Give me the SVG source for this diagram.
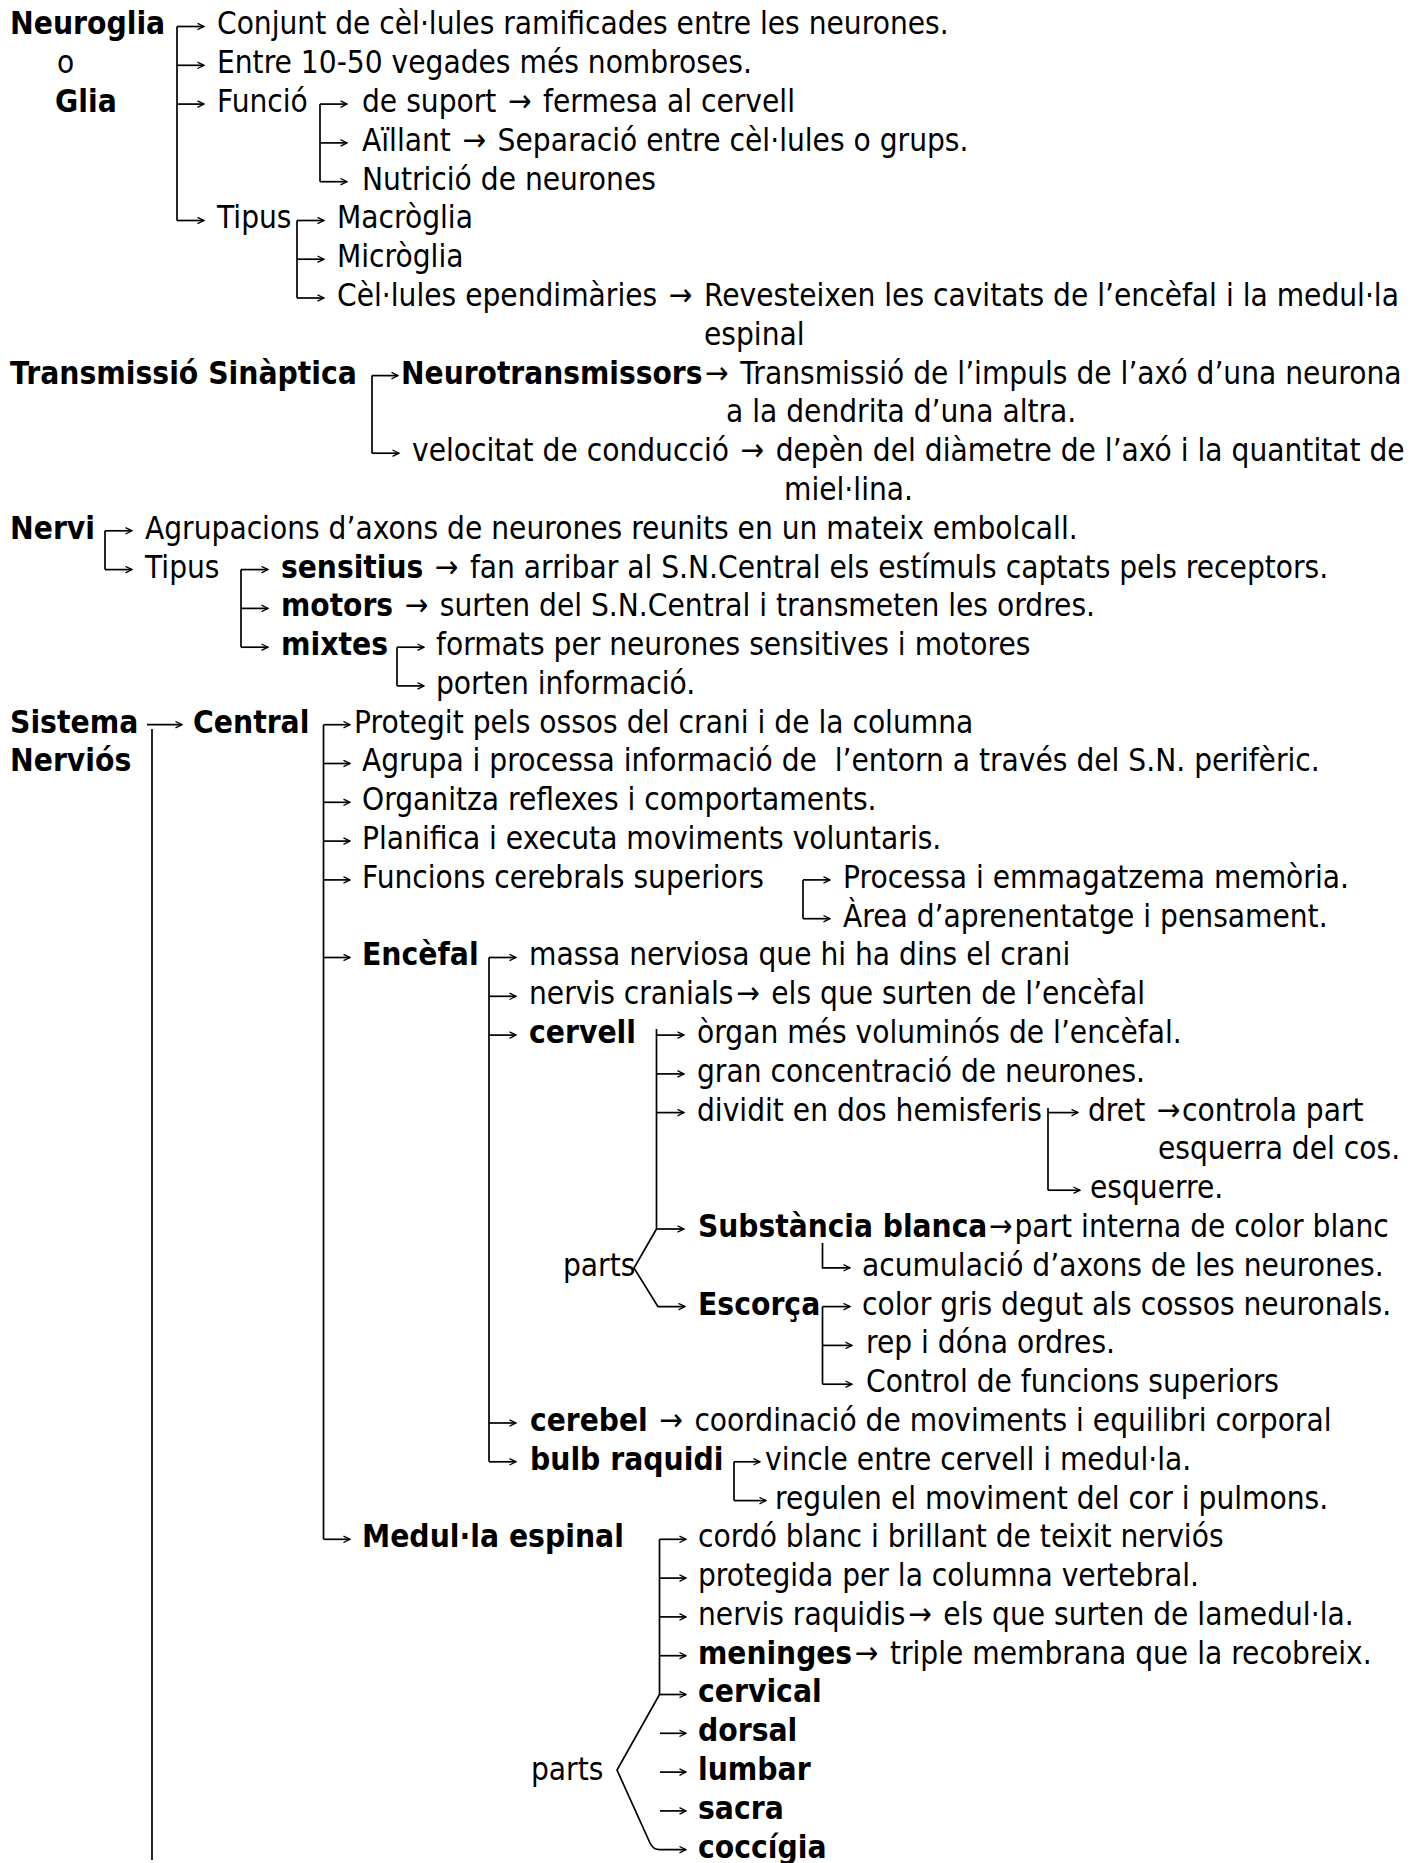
<svg xmlns="http://www.w3.org/2000/svg" width="1424" height="1863" viewBox="0 0 1424 1863">
<style>
text { font-family: "DejaVu Sans", Verdana, sans-serif; font-size: 32px; fill: #000; }
.b { font-weight: bold; }
.c { fill: none; stroke: #000; stroke-width: 1.7; }
.a { marker-end: url(#ah); }
</style>
<defs>
<marker id="ah" viewBox="0 0 8 8" refX="7.5" refY="4" markerWidth="8" markerHeight="8" markerUnits="userSpaceOnUse" orient="auto">
<path d="M1,0.8 L7.5,4 L1,7.2" fill="none" stroke="#000" stroke-width="1.3"/>
</marker>
</defs>
<rect width="1424" height="1863" fill="#fff"/>

<g id="connectors">
<path class="c" d="M177 26.5 V220.5"/>
<path class="c a" d="M177 26.5 H204"/><path class="c a" d="M177 65.3 H204"/><path class="c a" d="M177 104.1 H204"/><path class="c a" d="M177 220.5 H204"/>
<path class="c" d="M320 104.1 V181.7"/>
<path class="c a" d="M320 104.1 H347"/><path class="c a" d="M320 142.9 H347"/><path class="c a" d="M320 181.7 H347"/>
<path class="c" d="M297 220.5 V298"/>
<path class="c a" d="M297 220.5 H324"/><path class="c a" d="M297 259.2 H324"/><path class="c a" d="M297 298 H324"/>
<path class="c" d="M372 375.6 V453.2"/>
<path class="c a" d="M372 375.6 H398"/><path class="c a" d="M372 453.2 H399"/>
<path class="c" d="M105 530.8 V569.6"/>
<path class="c a" d="M105 530.8 H132"/><path class="c a" d="M105 569.6 H132"/>
<path class="c" d="M241 569.6 V647.2"/>
<path class="c a" d="M241 569.6 H268"/><path class="c a" d="M241 608.4 H268"/><path class="c a" d="M241 647.2 H268"/>
<path class="c" d="M397 647.2 V685.9"/>
<path class="c a" d="M397 647.2 H424"/><path class="c a" d="M397 685.9 H424"/>
<path class="c a" d="M147 724.7 H182"/>
<path class="c" d="M152 729 V1860"/>
<path class="c" d="M323.5 724.7 V1539.3"/>
<path class="c a" d="M323.5 724.7 H350"/><path class="c a" d="M323.5 763.5 H350"/><path class="c a" d="M323.5 802.3 H350"/><path class="c a" d="M323.5 841.1 H350"/><path class="c a" d="M323.5 879.9 H350"/><path class="c a" d="M323.5 957.5 H350"/><path class="c a" d="M323.5 1539.3 H350"/>
<path class="c" d="M803 879.9 V918.7"/>
<path class="c a" d="M803 879.9 H830"/><path class="c a" d="M803 918.7 H830"/>
<path class="c" d="M489 957.5 V1461.8"/>
<path class="c a" d="M489 957.5 H516"/><path class="c a" d="M489 996.3 H516"/><path class="c a" d="M489 1035.1 H516"/><path class="c a" d="M489 1423 H516"/><path class="c a" d="M489 1461.8 H516"/>
<path class="c a" d="M656.5 1029 V1229 L634 1268 L658 1306.6 H685"/>
<path class="c a" d="M656.5 1035.1 H684"/><path class="c a" d="M656.5 1073.9 H684"/><path class="c a" d="M656.5 1112.6 H684"/><path class="c a" d="M656.5 1229 H684"/>
<path class="c" d="M1048 1108 V1190.2"/>
<path class="c a" d="M1048 1112.6 H1078"/><path class="c a" d="M1048 1190.2 H1080"/>
<path class="c a" d="M822.5 1243 V1267.8 H850"/>
<path class="c" d="M822.5 1306.6 V1384.2"/>
<path class="c a" d="M822.5 1306.6 H850"/><path class="c a" d="M822.5 1345.4 H852"/><path class="c a" d="M822.5 1384.2 H852"/>
<path class="c" d="M734 1461.8 V1500.6"/>
<path class="c a" d="M734 1461.8 H760"/><path class="c a" d="M734 1500.6 H766"/>
<path class="c" d="M659.5 1539.3 V1694.5"/>
<path class="c a" d="M659.5 1539.3 H686"/><path class="c a" d="M659.5 1578.1 H686"/><path class="c a" d="M659.5 1616.9 H686"/><path class="c a" d="M659.5 1655.7 H686"/><path class="c a" d="M659.5 1694.5 H686"/>
<path class="c a" d="M659.5 1694.5 L617 1770 L650 1843 Q653 1849.7 660 1849.7 H686"/>
<path class="c a" d="M660 1733.3 H686"/><path class="c a" d="M660 1772.1 H686"/><path class="c a" d="M660 1810.9 H686"/>
</g>

<g id="n-neuroglia"><text class="b" transform="matrix(.885 0 0 1 10 0)" y="34.5">Neuroglia</text></g>
<g id="n-o"><text transform="matrix(.88 0 0 1 57 0)" y="73.3">o</text></g>
<g id="n-glia"><text class="b" transform="matrix(.885 0 0 1 55 0)" y="112.1">Glia</text></g>
<g id="n-conjunt"><text transform="matrix(.88 0 0 1 217 0)" y="34.5">Conjunt de cèl·lules ramificades entre les neurones.</text></g>
<g id="n-entre"><text transform="matrix(.88 0 0 1 217 0)" y="73.3">Entre 10-50 vegades més nombroses.</text></g>
<g id="n-funcio"><text transform="matrix(.88 0 0 1 217 0)" y="112.1">Funció</text></g>
<g id="n-suport"><text transform="matrix(.88 0 0 1 362 0)" y="112.1">de suport <tspan dx="3">→</tspan><tspan dx="3"> fermesa al cervell</tspan></text></g>
<g id="n-aillant"><text transform="matrix(.88 0 0 1 362 0)" y="150.9">Aïllant <tspan dx="3">→</tspan><tspan dx="3"> Separació entre cèl·lules o grups.</tspan></text></g>
<g id="n-nutricio"><text transform="matrix(.88 0 0 1 362 0)" y="189.7">Nutrició de neurones</text></g>
<g id="n-tipus1"><text transform="matrix(.88 0 0 1 217 0)" y="228.5">Tipus</text></g>
<g id="n-macroglia"><text transform="matrix(.88 0 0 1 337 0)" y="228.5">Macròglia</text></g>
<g id="n-microglia"><text transform="matrix(.88 0 0 1 337 0)" y="267.2">Micròglia</text></g>
<g id="n-ependim"><text transform="matrix(.88 0 0 1 337 0)" y="306">Cèl·lules ependimàries <tspan dx="3">→</tspan><tspan dx="3"> Revesteixen les cavitats de l’encèfal i la medul·la</tspan></text>
<text transform="matrix(.88 0 0 1 704 0)" y="344.8">espinal</text></g>

<g id="n-transmissio"><text class="b" transform="matrix(.885 0 0 1 10 0)" y="383.6">Transmissió Sinàptica</text></g>
<g id="n-neurotrans"><text transform="matrix(.88 0 0 1 401 0)" y="383.6"><tspan class="b">Neurotransmissors</tspan><tspan dx="3">→</tspan><tspan dx="3"> Transmissió de l’impuls de l’axó d’una neurona</tspan></text>
<text transform="matrix(.88 0 0 1 726 0)" y="422.4">a la dendrita d’una altra.</text></g>
<g id="n-velocitat"><text transform="matrix(.88 0 0 1 412 0)" y="461.2">velocitat de conducció <tspan dx="3">→</tspan><tspan dx="3"> depèn del diàmetre de l’axó i la quantitat de</tspan></text>
<text transform="matrix(.88 0 0 1 784 0)" y="500">miel·lina.</text></g>

<g id="n-nervi"><text class="b" transform="matrix(.885 0 0 1 10 0)" y="538.8">Nervi</text></g>
<g id="n-agrupacions"><text transform="matrix(.88 0 0 1 145 0)" y="538.8">Agrupacions d’axons de neurones reunits en un mateix embolcall.</text></g>
<g id="n-tipus2"><text transform="matrix(.88 0 0 1 145 0)" y="577.6">Tipus</text></g>
<g id="n-sensitius"><text transform="matrix(.88 0 0 1 281 0)" y="577.6"><tspan class="b">sensitius</tspan> <tspan dx="3">→</tspan><tspan dx="3"> fan arribar al S.N.Central els estímuls captats pels receptors.</tspan></text></g>
<g id="n-motors"><text transform="matrix(.88 0 0 1 281 0)" y="616.4"><tspan class="b">motors</tspan> <tspan dx="3">→</tspan><tspan dx="3"> surten del S.N.Central i transmeten les ordres.</tspan></text></g>
<g id="n-mixtes"><text class="b" transform="matrix(.885 0 0 1 281 0)" y="655.2">mixtes</text></g>
<g id="n-formats"><text transform="matrix(.88 0 0 1 436 0)" y="655.2">formats per neurones sensitives i motores</text></g>
<g id="n-porten"><text transform="matrix(.88 0 0 1 436 0)" y="693.9">porten informació.</text></g>

<g id="n-sistema"><text class="b" transform="matrix(.885 0 0 1 10 0)" y="732.7">Sistema</text>
<text class="b" transform="matrix(.885 0 0 1 10 0)" y="771.5">Nerviós</text></g>
<g id="n-central"><text class="b" transform="matrix(.885 0 0 1 193 0)" y="732.7">Central</text></g>
<g id="n-protegit"><text transform="matrix(.88 0 0 1 354 0)" y="732.7">Protegit pels ossos del crani i de la columna</text></g>
<g id="n-agrupa"><text xml:space="preserve" transform="matrix(.88 0 0 1 362 0)" y="771.5">Agrupa i processa informació de  l’entorn a través del S.N. perifèric.</text></g>
<g id="n-organitza"><text transform="matrix(.88 0 0 1 362 0)" y="810.3">Organitza reflexes i comportaments.</text></g>
<g id="n-planifica"><text transform="matrix(.88 0 0 1 362 0)" y="849.1">Planifica i executa moviments voluntaris.</text></g>
<g id="n-funcions"><text transform="matrix(.88 0 0 1 362 0)" y="887.9">Funcions cerebrals superiors</text></g>
<g id="n-processa"><text transform="matrix(.88 0 0 1 843 0)" y="887.9">Processa i emmagatzema memòria.</text></g>
<g id="n-area"><text transform="matrix(.88 0 0 1 843 0)" y="926.7">Àrea d’aprenentatge i pensament.</text></g>
<g id="n-encefal"><text class="b" transform="matrix(.885 0 0 1 362 0)" y="965.5">Encèfal</text></g>
<g id="n-massa"><text transform="matrix(.88 0 0 1 529 0)" y="965.5">massa nerviosa que hi ha dins el crani</text></g>
<g id="n-cranials"><text transform="matrix(.88 0 0 1 529 0)" y="1004.3">nervis cranials<tspan dx="3">→</tspan><tspan dx="3"> els que surten de l’encèfal</tspan></text></g>
<g id="n-cervell"><text class="b" transform="matrix(.885 0 0 1 529 0)" y="1043.1">cervell</text></g>
<g id="n-organ"><text transform="matrix(.88 0 0 1 697 0)" y="1043.1">òrgan més voluminós de l’encèfal.</text></g>
<g id="n-gran"><text transform="matrix(.88 0 0 1 697 0)" y="1081.9">gran concentració de neurones.</text></g>
<g id="n-dividit"><text transform="matrix(.88 0 0 1 697 0)" y="1120.6">dividit en dos hemisferis</text></g>
<g id="n-dret"><text transform="matrix(.88 0 0 1 1088 0)" y="1120.6">dret <tspan dx="3">→</tspan><tspan dx="2">controla part</tspan></text>
<text transform="matrix(.88 0 0 1 1158 0)" y="1159.4">esquerra del cos.</text></g>
<g id="n-esquerre"><text transform="matrix(.88 0 0 1 1090 0)" y="1198.2">esquerre.</text></g>
<g id="n-parts1"><text transform="matrix(.88 0 0 1 563 0)" y="1275.8">parts</text></g>
<g id="n-substancia"><text transform="matrix(.88 0 0 1 698 0)" y="1237"><tspan class="b">Substància blanca</tspan><tspan dx="2">→</tspan><tspan dx="2">part interna de color blanc</tspan></text></g>
<g id="n-acumulacio"><text transform="matrix(.88 0 0 1 862 0)" y="1275.8">acumulació d’axons de les neurones.</text></g>
<g id="n-escorca"><text class="b" transform="matrix(.885 0 0 1 698 0)" y="1314.6">Escorça</text></g>
<g id="n-color"><text transform="matrix(.88 0 0 1 862 0)" y="1314.6">color gris degut als cossos neuronals.</text></g>
<g id="n-rep"><text transform="matrix(.88 0 0 1 866 0)" y="1353.4">rep i dóna ordres.</text></g>
<g id="n-control"><text transform="matrix(.88 0 0 1 866 0)" y="1392.2">Control de funcions superiors</text></g>
<g id="n-cerebel"><text transform="matrix(.88 0 0 1 530 0)" y="1431"><tspan class="b">cerebel</tspan> <tspan dx="3">→</tspan><tspan dx="3"> coordinació de moviments i equilibri corporal</tspan></text></g>
<g id="n-bulb"><text class="b" transform="matrix(.885 0 0 1 530 0)" y="1469.8">bulb raquidi</text></g>
<g id="n-vincle"><text transform="matrix(.88 0 0 1 765 0)" y="1469.8">vincle entre cervell i medul·la.</text></g>
<g id="n-regulen"><text transform="matrix(.88 0 0 1 775 0)" y="1508.6">regulen el moviment del cor i pulmons.</text></g>
<g id="n-medulla"><text class="b" transform="matrix(.885 0 0 1 362 0)" y="1547.3">Medul·la espinal</text></g>
<g id="n-cordo"><text transform="matrix(.88 0 0 1 698 0)" y="1547.3">cordó blanc i brillant de teixit nerviós</text></g>
<g id="n-protegida"><text transform="matrix(.88 0 0 1 698 0)" y="1586.1">protegida per la columna vertebral.</text></g>
<g id="n-raquidis"><text transform="matrix(.88 0 0 1 698 0)" y="1624.9">nervis raquidis<tspan dx="3">→</tspan><tspan dx="3"> els que surten de lamedul·la.</tspan></text></g>
<g id="n-meninges"><text transform="matrix(.88 0 0 1 698 0)" y="1663.7"><tspan class="b">meninges</tspan><tspan dx="3">→</tspan><tspan dx="3"> triple membrana que la recobreix.</tspan></text></g>
<g id="n-parts2"><text transform="matrix(.88 0 0 1 531 0)" y="1780.1">parts</text></g>
<g id="n-cervical"><text class="b" transform="matrix(.885 0 0 1 698 0)" y="1702.5">cervical</text></g>
<g id="n-dorsal"><text class="b" transform="matrix(.885 0 0 1 698 0)" y="1741.3">dorsal</text></g>
<g id="n-lumbar"><text class="b" transform="matrix(.885 0 0 1 698 0)" y="1780.1">lumbar</text></g>
<g id="n-sacra"><text class="b" transform="matrix(.885 0 0 1 698 0)" y="1818.9">sacra</text></g>
<g id="n-coccigia"><text class="b" transform="matrix(.885 0 0 1 698 0)" y="1857.7">coccígia</text></g>
</svg>
